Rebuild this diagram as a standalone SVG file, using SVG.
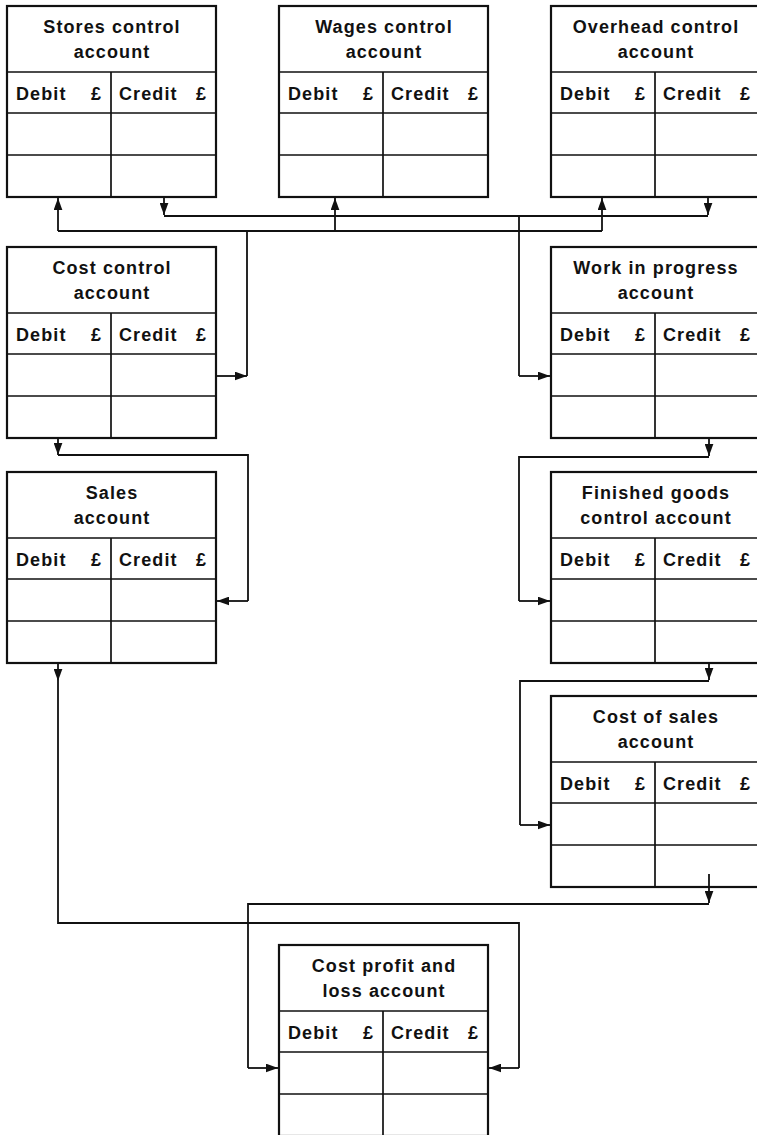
<svg xmlns="http://www.w3.org/2000/svg" xmlns:xlink="http://www.w3.org/1999/xlink" width="757" height="1135" viewBox="0 0 757 1135">
  <style>
    .frame { fill: #fff; stroke: #111; stroke-width: 2.2; }
    .rule { stroke: #111; stroke-width: 1.7; fill: none; }
    .title { font-family: "Liberation Sans", Arial, sans-serif; font-weight: bold; font-size: 18px; letter-spacing: 1.1px; fill: #111; text-anchor: middle; }
    .head { font-family: "Liberation Sans", Arial, sans-serif; font-weight: bold; font-size: 18px; letter-spacing: 1.1px; fill: #111; }
    .pound { font-family: "Liberation Sans", Arial, sans-serif; font-weight: bold; font-size: 18px; fill: #111; text-anchor: end; }
    .wire { stroke: #111; stroke-width: 1.8; fill: none; }
  </style>
  <defs>
    <!-- T-account grid: title band, Debit/Credit header, two entry rows -->
    <g id="ledger-grid">
      <rect class="frame" x="0" y="0" width="209" height="191"/>
      <path class="rule" d="M0,66 H209 M0,107 H209 M0,149 H209 M104,66 V191"/>
    </g>
    <marker id="arrow" viewBox="0 0 11 8" refX="11" refY="4" markerWidth="12" markerHeight="9" markerUnits="userSpaceOnUse" orient="auto">
      <path d="M0,0 L11,4 L0,8 Z" fill="#111"/>
    </marker>
  </defs>

  <rect width="757" height="1135" fill="#fff"/>

  <!-- accounts -->
  <g id="stores" transform="translate(7,6)">
    <use xlink:href="#ledger-grid"/>
    <text class="title" x="105" y="27">Stores control</text>
    <text class="title" x="105" y="52">account</text>
    <text class="head" x="9" y="94">Debit</text><text class="pound" x="94" y="94">£</text>
    <text class="head" x="112" y="94">Credit</text><text class="pound" x="199" y="94">£</text>
  </g>

  <g id="wages" transform="translate(279,6)">
    <use xlink:href="#ledger-grid"/>
    <text class="title" x="105" y="27">Wages control</text>
    <text class="title" x="105" y="52">account</text>
    <text class="head" x="9" y="94">Debit</text><text class="pound" x="94" y="94">£</text>
    <text class="head" x="112" y="94">Credit</text><text class="pound" x="199" y="94">£</text>
  </g>

  <g id="overhead" transform="translate(551,6)">
    <use xlink:href="#ledger-grid"/>
    <text class="title" x="105" y="27">Overhead control</text>
    <text class="title" x="105" y="52">account</text>
    <text class="head" x="9" y="94">Debit</text><text class="pound" x="94" y="94">£</text>
    <text class="head" x="112" y="94">Credit</text><text class="pound" x="199" y="94">£</text>
  </g>

  <g id="cost-control" transform="translate(7,247)">
    <use xlink:href="#ledger-grid"/>
    <text class="title" x="105" y="27">Cost control</text>
    <text class="title" x="105" y="52">account</text>
    <text class="head" x="9" y="94">Debit</text><text class="pound" x="94" y="94">£</text>
    <text class="head" x="112" y="94">Credit</text><text class="pound" x="199" y="94">£</text>
  </g>

  <g id="work-in-progress" transform="translate(551,247)">
    <use xlink:href="#ledger-grid"/>
    <text class="title" x="105" y="27">Work in progress</text>
    <text class="title" x="105" y="52">account</text>
    <text class="head" x="9" y="94">Debit</text><text class="pound" x="94" y="94">£</text>
    <text class="head" x="112" y="94">Credit</text><text class="pound" x="199" y="94">£</text>
  </g>

  <g id="sales" transform="translate(7,472)">
    <use xlink:href="#ledger-grid"/>
    <text class="title" x="105" y="27">Sales</text>
    <text class="title" x="105" y="52">account</text>
    <text class="head" x="9" y="94">Debit</text><text class="pound" x="94" y="94">£</text>
    <text class="head" x="112" y="94">Credit</text><text class="pound" x="199" y="94">£</text>
  </g>

  <g id="finished-goods" transform="translate(551,472)">
    <use xlink:href="#ledger-grid"/>
    <text class="title" x="105" y="27">Finished goods</text>
    <text class="title" x="105" y="52">control account</text>
    <text class="head" x="9" y="94">Debit</text><text class="pound" x="94" y="94">£</text>
    <text class="head" x="112" y="94">Credit</text><text class="pound" x="199" y="94">£</text>
  </g>

  <g id="cost-of-sales" transform="translate(551,696)">
    <use xlink:href="#ledger-grid"/>
    <text class="title" x="105" y="27">Cost of sales</text>
    <text class="title" x="105" y="52">account</text>
    <text class="head" x="9" y="94">Debit</text><text class="pound" x="94" y="94">£</text>
    <text class="head" x="112" y="94">Credit</text><text class="pound" x="199" y="94">£</text>
  </g>

  <g id="cost-profit-loss" transform="translate(279,945)">
    <use xlink:href="#ledger-grid"/>
    <text class="title" x="105" y="27">Cost profit and</text>
    <text class="title" x="105" y="52">loss account</text>
    <text class="head" x="9" y="94">Debit</text><text class="pound" x="94" y="94">£</text>
    <text class="head" x="112" y="94">Credit</text><text class="pound" x="199" y="94">£</text>
  </g>

  <!-- connectors (drawn over the accounts) -->
  <g id="connectors">
    <!-- cost control credit to stores / wages / overhead debits -->
    <path class="wire" d="M216,376 H247" marker-end="url(#arrow)"/>
    <path class="wire" d="M247,376 V231 M58,231 H602"/>
    <path class="wire" d="M58,231 V198" marker-end="url(#arrow)"/>
    <path class="wire" d="M335,231 V198" marker-end="url(#arrow)"/>
    <path class="wire" d="M602,231 V198" marker-end="url(#arrow)"/>

    <!-- stores and overhead credits to work in progress debit -->
    <path class="wire" d="M164,197 V215" marker-end="url(#arrow)"/>
    <path class="wire" d="M708,197 V215" marker-end="url(#arrow)"/>
    <path class="wire" d="M164,216 H708 M519,216 V376"/>
    <path class="wire" d="M519,376 H550" marker-end="url(#arrow)"/>

    <!-- cost control debit to sales credit -->
    <path class="wire" d="M58,438 V455" marker-end="url(#arrow)"/>
    <path class="wire" d="M58,455 H248 V601"/>
    <path class="wire" d="M248,601 H217" marker-end="url(#arrow)"/>

    <!-- work in progress credit to finished goods debit -->
    <path class="wire" d="M709,438 V456" marker-end="url(#arrow)"/>
    <path class="wire" d="M709,457 H519 V601"/>
    <path class="wire" d="M519,601 H550" marker-end="url(#arrow)"/>

    <!-- finished goods credit to cost of sales debit -->
    <path class="wire" d="M709,663 V680" marker-end="url(#arrow)"/>
    <path class="wire" d="M709,681 H520 V825"/>
    <path class="wire" d="M520,825 H550" marker-end="url(#arrow)"/>

    <!-- sales debit to cost profit and loss credit -->
    <path class="wire" d="M58,663 V681" marker-end="url(#arrow)"/>
    <path class="wire" d="M58,681 V923 H519 V1068"/>
    <path class="wire" d="M519,1068 H489" marker-end="url(#arrow)"/>

    <!-- cost of sales credit to cost profit and loss debit -->
    <path class="wire" d="M709,874 V903" marker-end="url(#arrow)"/>
    <path class="wire" d="M709,904 H248 V1068"/>
    <path class="wire" d="M248,1068 H278" marker-end="url(#arrow)"/>
  </g>
</svg>
